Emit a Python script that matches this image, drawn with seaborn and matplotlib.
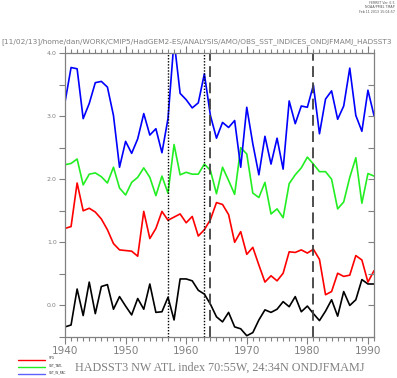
import numpy as np
import pandas as pd
import seaborn as sns
import matplotlib
matplotlib.use("Agg")
import matplotlib.pyplot as plt
from matplotlib.ticker import MultipleLocator
from matplotlib.lines import Line2D

years = list(range(1940, 1992))

nw_atl = [-0.34, -0.31, 0.26, -0.16, 0.37, -0.13, 0.30, 0.33, -0.06, 0.14,
          -0.01, -0.15, 0.11, -0.06, 0.34, -0.11, -0.10, 0.13, -0.23, 0.42,
          0.42, 0.39, 0.24, 0.18, 0.02, -0.18, -0.26, -0.11, -0.34, -0.37,
          -0.48, -0.43, -0.23, -0.07, -0.11, -0.06, 0.06, -0.02, 0.14, -0.10,
          -0.01, -0.13, -0.24, -0.09, 0.09, -0.17, 0.22, 0.00, 0.09, 0.41,
          0.34, 0.34]

spg = [1.22, 1.25, 1.94, 1.50, 1.54, 1.48, 1.37, 1.20, 0.98, 0.88,
       0.87, 0.86, 0.78, 1.49, 1.06, 1.22, 1.49, 1.35, 1.40, 1.45,
       1.31, 1.41, 1.10, 1.20, 1.36, 1.63, 1.60, 1.44, 1.00, 1.17,
       0.81, 0.92, 0.64, 0.37, 0.47, 0.39, 0.51, 0.85, 0.84, 0.88,
       0.83, 0.89, 0.73, 0.17, 0.22, 0.51, 0.46, 0.48, 0.79, 0.72,
       0.37, 0.55]

sst_tatl = [2.23, 2.25, 2.32, 1.91, 2.08, 2.10, 2.04, 1.94, 2.19, 1.86,
            1.75, 1.95, 2.03, 2.18, 2.03, 1.74, 2.05, 1.78, 2.55, 2.07,
            2.11, 2.08, 2.08, 2.24, 2.14, 1.77, 2.19, 1.98, 1.76, 2.50,
            2.40, 1.78, 1.71, 1.95, 1.45, 1.53, 1.39, 1.93, 2.07, 2.18,
            2.35, 2.24, 2.12, 2.12, 2.00, 1.53, 1.64, 2.03, 2.34, 1.62,
            2.09, 2.05]

sst_w_pac = [3.22, 3.77, 3.75, 2.96, 3.20, 3.53, 3.55, 3.46, 3.01, 2.19,
             2.60, 2.41, 2.64, 3.04, 2.70, 2.80, 2.42, 2.96, 4.20, 3.36,
             3.26, 3.13, 3.21, 3.67, 3.01, 2.65, 2.90, 2.82, 2.93, 2.19,
             3.14, 2.56, 2.07, 2.68, 2.24, 2.65, 2.16, 3.24, 2.88, 3.16,
             3.14, 3.49, 2.72, 3.27, 3.40, 2.95, 3.16, 3.76, 3.01, 2.76,
             3.41, 3.01]

series_names = ["NW_ATL", "SPG", "SST_TATL", "SST_W_PAC"]
legend_names = ["SPG", "SST_TATL", "SST_W_PAC"]
dotted_years = [1957, 1963]
dashed_years = [1964, 1981]
title_top = "[11/02/13]/home/dan/WORK/CMIP5/HadGEM2-ES/ANALYSIS/AMO/OBS_SST_INDICES_ONDJFMAMJ_HADSST3"
title_bottom = "HADSST3 NW ATL index 70:55W, 24:34N ONDJFMAMJ"
stamp = "FERRET Ver. 6.5\nNOAA/PMEL TMAP\nFeb 11 2013 15:04:57"

df = pd.DataFrame({
    "year": years * 4,
    "value": nw_atl + spg + sst_tatl + sst_w_pac,
    "series": sum([[n] * len(years) for n in series_names], []),
})

sns.set_style("white")
plt.rcParams["font.family"] = ["DejaVu Sans"]

palette = {"NW_ATL": "#000000", "SPG": "#ff0000", "SST_TATL": "#22ee22", "SST_W_PAC": "#0000ff"}
grey = "#808080"

fig = plt.figure(figsize=(3.97, 3.78), dpi=100)
ax = fig.add_axes([65 / 397, 1 - 337 / 378, 309 / 397, 284 / 378])

sns.lineplot(data=df, x="year", y="value", hue="series", palette=palette,
             legend=False, ax=ax, linewidth=1.2)

for yr in dotted_years:
    ax.axvline(yr, color="black", linestyle=(0, (1, 1.2)), linewidth=1.0)
for yr in dashed_years:
    ax.axvline(yr, color="#404040", linestyle=(0, (6, 3)), linewidth=1.3)

ax.set_xlim(1940, 1991)
ax.set_ylim(-0.5, 4.0)
ax.set_xlabel("")
ax.set_ylabel("")

ax.xaxis.set_major_locator(MultipleLocator(10))
ax.xaxis.set_minor_locator(MultipleLocator(1))
ax.yaxis.set_major_locator(MultipleLocator(1))
ax.yaxis.set_minor_locator(MultipleLocator(0.5))
ax.set_yticks([0, 1, 2, 3, 4])
ax.set_yticklabels(["0.0", "1.0", "2.0", "3.0", "4.0"])
ax.set_xticks(range(1940, 1991, 10))
ax.set_xticklabels([str(y) for y in range(1940, 1991, 10)])

ax.tick_params(axis="x", which="both", top=True, bottom=True, direction="out",
               colors=grey, labelcolor=grey, labelsize=7.5, width=0.8, pad=1.5)
ax.tick_params(axis="x", which="major", length=5)
ax.tick_params(axis="x", which="minor", length=3)
ax.tick_params(axis="y", which="both", left=True, right=False, direction="out",
               colors=grey, labelcolor=grey, labelsize=4.5, length=4, width=0.8, pad=2)

for s in ax.spines.values():
    s.set_color(grey)
    s.set_linewidth(0.9)

ax2 = ax.twinx()
ax2.set_ylim(-0.5, 4.0)
ax2.yaxis.set_major_locator(MultipleLocator(0.5))
ax2.tick_params(axis="y", which="both", direction="in", length=4, width=0.8,
                colors=grey, labelright=False)
for s in ax2.spines.values():
    s.set_visible(False)

fig.text(1 / 397, 1 - 42 / 378, title_top, fontsize=5.28, color=grey, ha="left", va="center")
fig.text(395 / 397, 1 - 1 / 378, stamp, fontsize=2.3, color="#555555",
         ha="right", va="top", linespacing=1.1)
fig.text(75 / 397, 1 - 368 / 378, title_bottom, fontsize=8.7, color=grey,
         ha="left", va="center", family=["Liberation Serif", "DejaVu Serif"])

leg_y = [359.5, 367.0, 373.5]
leg_col = ["#ff0000", "#22ee22", "#6060ff"]
for name, yy, col in zip(legend_names, leg_y, leg_col):
    fig.add_artist(Line2D([18 / 397, 45 / 397], [1 - yy / 378, 1 - yy / 378],
                          color=col, linewidth=1.0, transform=fig.transFigure))
    fig.text(49 / 397, 1 - (yy - 1.2) / 378, name, fontsize=2.2, color="#333333",
             ha="left", va="center")

fig.savefig("out.png", dpi=100)
